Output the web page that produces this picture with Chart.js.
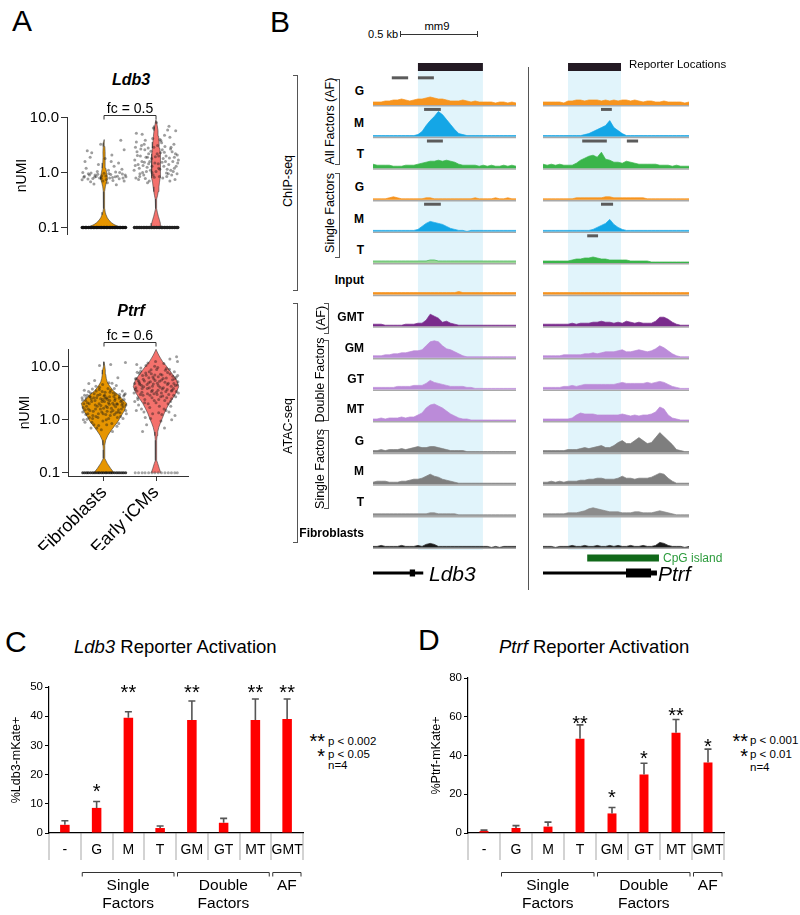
<!DOCTYPE html>
<html>
<head>
<meta charset="utf-8">
<title>Ldb3 / Ptrf reporter figure</title>
<script src="https://cdn.jsdelivr.net/npm/chart.js@4.4.1/dist/chart.umd.min.js"></script>
<style>
html,body{margin:0;padding:0;background:#fff;}
body{width:800px;height:915px;position:relative;overflow:hidden;font-family:'Liberation Sans',Arial,Helvetica,sans-serif;color:#000;}
.t{position:absolute;white-space:nowrap;line-height:1;}
.ln{position:absolute;box-sizing:border-box;}
canvas{position:absolute;}
</style>
</head>
<body>
<canvas id="vLdb3" width="200" height="155" style="left:0px;top:90px"></canvas>
<canvas id="vPtrf" width="200" height="232" style="left:0px;top:318px"></canvas>
<canvas id="trkL" width="143" height="530" style="left:373px;top:55px"></canvas>
<canvas id="trkR" width="146" height="530" style="left:543px;top:55px"></canvas>
<canvas id="barC" width="306" height="238" style="left:0px;top:677px"></canvas>
<canvas id="barD" width="327" height="247" style="left:400px;top:668px"></canvas>
<script>
// ======================= DATA =======================
// ---- Panel A: single-cell violins (nUMI, log scale) ----
const violinGroups = ['Fibroblasts', 'Early iCMs'];
const violinTicks = [0.1, 1, 10];
// violin outlines: nUMI level and half-width density
const ldb3FibLevels  = [0.1,0.106,0.113,0.122,0.135,0.15,0.17,0.19,0.22,0.27,0.35,0.45,0.55,0.65,0.75,0.85,1.0,1.2,1.5,1.9,2.4,3.0,3.5,4.0];
const ldb3FibDensity = [17.5,13.5,10,7.5,5,3.3,2,1.2,0.7,0.5,0.5,0.7,1.3,2.2,3.2,3.3,2.6,1.8,1.2,1.0,1.1,0.8,0.5,0];
const ldb3IcmLevels  = [0.1,0.11,0.12,0.14,0.16,0.19,0.22,0.28,0.33,0.38,0.45,0.55,0.65,0.8,1.0,1.3,1.7,2.2,2.8,3.6,4.6,5.8,7.2,8.4,9.2];
const ldb3IcmDensity = [5,4.8,4.3,3.3,2.3,1.3,0.6,0.4,0.8,1.5,2.2,2.9,3.4,4.1,4.6,4.6,4.4,4.1,3.7,3.1,2.6,2.0,1.2,0.5,0];
const ptrfFibLevels  = [0.1,0.12,0.15,0.186,0.22,0.27,0.33,0.41,0.51,0.62,0.74,0.9,1.14,1.52,2.04,2.5,3.0,3.4,4.0,4.5,5.2,6.0,7.2,8.7,10.5,12.4];
const ptrfFibDensity = [10,6.7,3.3,0.8,0.6,0.7,1.0,1.7,4,7,10,13.5,16.7,20.7,22.7,18,14,10,7,5,3.2,2.3,1.7,1.3,0.7,0];
const ptrfIcmLevels  = [0.1,0.12,0.15,0.17,0.22,0.3,0.41,0.5,0.59,0.72,0.86,1.05,1.33,1.65,2.04,2.5,3.16,4.2,5.6,7.0,8.7,10.5,12.4,14.5,16.6,19,21.3];
const ptrfIcmDensity = [4.7,3.3,1.7,0.7,0.6,0.6,0.7,1.1,1.7,2.8,4.3,6.2,8.3,10.7,13.3,16.5,20,22.7,20.7,17,13.3,10,6.7,4.5,2.7,1.2,0];
// cells: [jitter, nUMI]
const ldb3FibCells = [[-0.9,0.82],[-0.7,0.95],[-0.5,0.78],[-0.3,1.05],[-0.1,0.88],[0.1,0.75],[0.3,0.92],[0.5,0.84],[0.7,1.0],[0.9,0.7],
  [-0.8,1.2],[-0.6,0.68],[-0.4,0.9],[-0.2,0.8],[0,0.97],[0.2,1.1],[0.4,0.72],[0.6,0.86],[0.8,1.15],[0.95,0.9],
  [-0.85,1.6],[-0.55,2.3],[-0.25,1.4],[0.05,1.8],[0.35,2.1],[0.65,1.5],[0.9,2.6],[-0.75,2.5],[-0.45,0.62],[0.15,0.65],
  [0.55,0.6],[-0.15,3.3],[0.75,3.9],[0.45,1.3],[-0.95,1.0],[-0.35,0.85],[0.25,0.8],[-0.65,0.9],[0.85,0.8],[-0.05,0.7],
  [-0.88,0.86],[-0.72,0.76],[-0.58,0.98],[-0.42,0.83],[-0.28,0.93],[-0.12,0.79],[0.08,0.87],[0.22,0.96],[0.38,0.81],[0.52,1.02],
  [0.68,0.77],[0.82,0.94],[0.98,0.84],[-0.98,0.74],[0.32,1.6],[-0.62,1.9]];
const ldb3IcmCells = [[-0.95,1.7],[-0.85,2.4],[-0.75,1.2],[-0.65,3.1],[-0.55,0.9],[-0.45,1.9],[-0.35,2.8],[-0.25,1.1],[-0.15,4.2],[-0.05,1.5],
  [0.05,2.2],[0.15,0.85],[0.25,3.5],[0.35,1.3],[0.45,2.0],[0.55,0.95],[0.65,2.7],[0.75,1.6],[0.85,0.75],[0.95,2.1],
  [-0.9,0.8],[-0.8,1.4],[-0.7,2.0],[-0.6,1.0],[-0.5,2.6],[-0.4,1.25],[-0.3,0.7],[-0.2,1.8],[-0.1,2.9],[0,1.05],
  [0.1,1.45],[0.2,2.3],[0.3,0.8],[0.4,3.0],[0.5,1.15],[0.6,1.85],[0.7,0.9],[0.8,3.3],[0.9,1.3],[1.0,1.7],
  [-0.88,3.6],[-0.62,5.0],[-0.38,0.65],[-0.12,6.5],[0.12,1.2],[0.38,4.8],[0.62,0.7],[0.88,5.8],[-0.72,0.95],[0.72,2.4],
  [-0.28,1.6],[0.28,2.6],[-0.48,3.9],[0.48,0.85],[-0.18,1.0],[0.18,4.0],[-0.58,1.35],[0.58,7.0],[0.02,8.2],[-0.98,1.1],
  [-0.33,2.2],[0.42,1.6],[-0.78,0.75],[0.82,1.9],[-0.08,0.82],[0.66,1.1],[-0.52,1.55],[0.22,3.8],[-0.92,2.9],[0.94,0.95],
  [-0.93,1.35],[-0.83,2.05],[-0.73,0.85],[-0.63,1.6],[-0.53,3.3],[-0.43,1.05],[-0.33,1.45],[-0.23,2.45],[-0.13,0.9],[-0.03,1.95],
  [0.07,3.1],[0.17,1.15],[0.27,1.55],[0.37,2.35],[0.47,0.98],[0.57,1.4],[0.67,2.9],[0.77,1.05],[0.87,2.2],[0.97,1.5],
  [-0.68,2.7],[-0.18,1.3],[0.32,1.8],[0.82,1.2],[-0.48,0.78],[0.12,2.0],[0.62,4.4],[-0.88,5.2],[0.52,6.0],[-0.38,1.9]];
const ptrfFibCells = [[-0.9,2.0],[-0.8,2.6],[-0.7,1.6],[-0.6,3.2],[-0.5,1.2],[-0.4,2.3],[-0.3,1.8],[-0.2,4.1],[-0.1,1.4],[0,2.8],
  [0.1,1.0],[0.2,2.1],[0.3,3.6],[0.4,1.5],[0.5,2.5],[0.6,1.1],[0.7,3.0],[0.8,1.9],[0.9,2.4],[1.0,1.3],
  [-0.95,1.4],[-0.85,0.9],[-0.75,2.9],[-0.65,1.1],[-0.55,2.2],[-0.45,0.8],[-0.35,3.5],[-0.25,1.3],[-0.15,2.5],[-0.05,0.95],
  [0.05,3.3],[0.15,1.7],[0.25,2.7],[0.35,0.85],[0.45,1.9],[0.55,4.4],[0.65,1.55],[0.75,2.2],[0.85,1.05],[0.95,3.1],
  [-0.92,1.0],[-0.78,1.8],[-0.62,2.7],[-0.48,1.45],[-0.32,0.7],[-0.18,3.0],[-0.02,1.65],[0.12,2.6],[0.28,1.2],[0.42,3.2],
  [0.58,0.75],[0.72,1.35],[0.88,2.8],[-0.68,4.8],[-0.42,5.5],[0.22,5.0],[0.62,6.2],[-0.12,0.65],[0.38,0.6],[-0.88,3.6],
  [-0.58,0.7],[0.02,2.2],[0.32,1.4],[-0.22,2.0],[0.48,2.3],[-0.38,1.6],[0.78,1.6],[-0.82,2.3],[0.18,3.9],[-0.08,3.4],
  [0.52,1.75],[-0.52,3.8],[0.68,2.55],[-0.28,2.9],[0.08,1.25],[0.98,1.9],[-0.72,1.3],[0.82,3.5],[-0.98,2.6],[0.3,11.0],
  [-0.2,10.5],[0.96,12.0],[-0.46,2.6],[0.26,2.3],[-0.66,2.0],[0.14,1.45],[-0.36,1.15],[0.44,2.75],[-0.06,2.4],[0.6,1.95],
  [-0.93,1.7],[-0.87,2.9],[-0.81,1.25],[-0.74,2.1],[-0.69,3.4],[-0.63,1.5],[-0.57,2.45],[-0.51,1.05],[-0.44,3.1],[-0.39,1.9],
  [-0.33,2.6],[-0.27,1.1],[-0.21,3.7],[-0.16,1.6],[-0.09,2.2],[-0.04,1.3],[0.03,2.9],[0.09,1.8],[0.16,2.4],[0.21,1.05],
  [0.27,3.3],[0.33,1.65],[0.39,2.05],[0.46,1.25],[0.51,3.0],[0.57,2.0],[0.63,1.4],[0.69,2.7],[0.74,1.15],[0.79,2.3],
  [0.86,1.75],[0.91,2.95],[0.97,1.5],[-0.96,2.35],[-0.06,4.6],[0.36,4.9],[-0.54,0.9],[0.66,0.85],[0.12,0.8],[-0.24,0.78],
  [-0.76,1.02],[0.46,3.9],[-0.36,4.3],[0.84,2.05],[-0.14,1.85],[0.06,2.55],[-0.64,2.75],[0.54,1.35],[-0.84,1.55],[0.24,1.95]];
const ptrfIcmCells = [[-0.9,4.0],[-0.8,5.5],[-0.7,3.0],[-0.6,6.8],[-0.5,2.4],[-0.4,4.6],[-0.3,8.0],[-0.2,3.4],[-0.1,5.9],[0,2.1],
  [0.1,4.4],[0.2,7.2],[0.3,2.8],[0.4,5.1],[0.5,3.7],[0.6,9.0],[0.7,2.5],[0.8,4.8],[0.9,6.3],[1.0,3.2],
  [-0.95,2.2],[-0.85,3.5],[-0.75,7.5],[-0.65,1.6],[-0.55,4.2],[-0.45,10.5],[-0.35,2.0],[-0.25,5.2],[-0.15,1.3],[-0.05,7.0],
  [0.05,3.0],[0.15,1.8],[0.25,5.6],[0.35,11.5],[0.45,1.5],[0.55,4.9],[0.65,2.2],[0.75,6.6],[0.85,1.2],[0.95,4.5],
  [-0.92,5.9],[-0.78,1.9],[-0.62,3.9],[-0.48,1.1],[-0.32,6.2],[-0.18,2.6],[-0.02,12.5],[0.12,2.4],[0.28,3.8],[0.42,8.6],
  [0.58,1.4],[0.72,3.6],[0.88,2.7],[-0.68,9.5],[-0.42,0.8],[0.22,0.95],[0.62,14.0],[-0.12,4.7],[0.38,0.7],[-0.88,1.5],
  [-0.58,2.9],[0.02,3.3],[0.32,6.0],[-0.22,8.8],[0.48,2.6],[-0.38,3.1],[0.78,3.9],[-0.82,2.6],[0.18,4.1],[-0.08,2.3],
  [0.52,7.8],[-0.52,5.4],[0.68,4.3],[-0.28,1.7],[0.08,9.7],[0.98,5.2],[-0.72,4.6],[0.82,8.0],[-0.98,3.2],[0.92,15.5],
  [-0.6,0.6],[0.1,6.5],[-0.3,4.0],[0.44,3.4],[-0.16,3.6],[0.26,1.25],[-0.46,7.6],[0.7,1.0],[-0.86,11.0],[0.96,12.5],
  [-0.93,3.7],[-0.87,6.0],[-0.81,2.4],[-0.74,4.9],[-0.69,8.2],[-0.63,3.3],[-0.57,5.8],[-0.51,2.1],[-0.44,6.9],[-0.39,3.9],
  [-0.33,5.0],[-0.27,2.9],[-0.21,7.4],[-0.16,4.3],[-0.09,3.1],[-0.04,5.5],[0.03,8.9],[0.09,3.6],[0.16,5.3],[0.21,2.7],
  [0.27,7.0],[0.33,4.0],[0.39,2.3],[0.46,6.1],[0.51,4.6],[0.57,3.0],[0.63,7.3],[0.69,3.5],[0.74,5.7],[0.79,2.9],
  [0.86,4.4],[0.91,3.4],[0.97,6.8],[-0.96,4.8],[-0.06,10.2],[0.36,1.6],[-0.54,1.4],[0.66,1.8],[0.12,1.35],[-0.24,1.05],
  [-0.76,5.2],[0.46,9.3],[-0.36,11.8],[0.84,5.9],[-0.14,6.4],[0.06,4.9],[-0.64,4.4],[0.54,2.0],[-0.84,7.9],[0.24,3.2]];
// cells with zero counts (plotted at 0.1): jitter only
const ldb3FibZero = [-0.97,-0.91,-0.83,-0.78,-0.69,-0.62,-0.55,-0.47,-0.41,-0.33,-0.27,-0.18,-0.12,-0.04,0.03,0.11,0.17,0.26,0.31,0.39,0.46,0.53,0.61,0.68,0.74,0.82,0.89,0.96];
const ldb3IcmZero = [-0.96,-0.88,-0.81,-0.73,-0.66,-0.57,-0.5,-0.43,-0.36,-0.28,-0.21,-0.13,-0.06,0.02,0.09,0.16,0.24,0.3,0.38,0.45,0.52,0.6,0.67,0.75,0.83,0.9,0.97];
const ptrfFibZero = [-0.95,-0.86,-0.77,-0.7,-0.61,-0.52,-0.44,-0.36,-0.27,-0.2,-0.11,-0.03,0.06,0.13,0.22,0.3,0.37,0.46,0.55,0.63,0.71,0.8,0.88,0.97];
const ptrfIcmZero = [-0.93,-0.78,-0.62,-0.49,-0.33,-0.18,-0.05,0.1,0.24,0.4,0.55,0.69,0.84,0.95];

// ---- Panel B: genome browser tracks (signal per bin, 36 bins per locus) ----
const trackNames = ['G','M','T','G','M','T','Input','GMT','GM','GT','MT','G','M','T','Fibroblasts'];
const ldb3ChipAF_G = [3,3,3,4,4,5,5,6,5,4,5,6,6,7,8,7,6,6,5,4,4,4,5,4,3,4,3,3,3,3,2,3,3,2,3,2];
const ldb3ChipAF_M = [1,1,1,1,1,1,1,1,1,1,1,2,5,11,16,20,25,22,17,12,7,3,2,1,1,1,1,1,1,1,1,1,1,1,1,1];
const ldb3ChipAF_T = [4,3,3,3,3,2,2,2,3,3,3,4,5,6,7,7,8,7,8,7,6,4,3,3,3,3,2,3,2,3,2,2,3,2,3,2];
const ldb3ChipSF_G = [1,1,1,1,2,3,2,1,1,1,1,1,1,2,2,1,1,1,1,1,1,1,1,1,1,2,1,1,1,1,2,1,1,2,1,1];
const ldb3ChipSF_M = [1,1,1,1,1,1,1,1,1,1,1,2,5,8,10,9,8,7,5,3,2,1,1,0,1,1,1,1,1,1,1,1,1,1,1,1];
const ldb3ChipSF_T = [2,2,2,2,2,2,2,2,2,2,2,2,2,2,3,3,2,2,2,2,2,2,2,2,2,2,2,2,2,2,2,2,2,2,2,2];
const ldb3Input    = [2,2,2,2,2,2,2,2,2,2,2,2,2,2,2,2,2,2,2,2,2,3,2,2,2,2,2,2,2,2,2,2,2,2,2,2];
const ldb3AtacGMT  = [2,2,2,1,1,1,1,1,2,2,2,3,3,6,12,10,8,4,5,3,2,1,1,1,1,1,1,1,1,1,1,1,1,1,1,1];
const ldb3AtacGM   = [2,2,2,3,3,4,4,5,5,6,7,7,8,12,16,17,16,12,9,8,6,4,2,1,1,1,1,1,1,1,1,1,1,1,1,1];
const ldb3AtacGT   = [2,2,2,2,2,2,3,3,3,3,4,4,4,6,9,7,6,5,4,3,3,3,3,2,2,1,1,1,1,1,1,1,1,1,1,1];
const ldb3AtacMT   = [2,2,3,2,3,3,3,4,3,4,4,6,8,13,16,17,15,13,10,7,5,3,2,2,1,1,1,1,1,1,1,1,1,1,1,1];
const ldb3AtacG    = [2,2,3,2,3,3,3,4,3,4,5,6,5,5,6,6,5,4,3,2,2,2,2,1,1,1,1,1,1,1,1,1,1,1,1,1];
const ldb3AtacM    = [2,3,3,3,2,2,2,3,3,4,5,5,6,8,10,8,7,5,4,3,2,1,1,1,1,1,1,1,1,1,1,1,1,1,1,1];
const ldb3AtacT    = [2,2,2,2,2,2,2,2,2,2,2,2,2,2,3,3,2,2,2,2,2,1,1,1,1,1,1,1,1,1,1,1,1,1,1,1];
const ldb3AtacFib  = [1,1,2,1,1,1,1,2,1,1,1,2,1,3,4,3,1,1,1,1,1,1,1,1,1,1,1,1,1,0,1,0,1,1,1,1];
const ptrfChipAF_G = [3,3,3,3,3,2,4,4,5,5,4,5,5,5,4,5,4,5,4,5,5,4,5,4,3,4,4,3,3,4,3,3,3,3,2,3];
const ptrfChipAF_M = [1,1,1,1,1,1,1,1,1,1,2,3,5,7,9,11,16,9,6,3,1,1,1,1,1,1,1,1,1,1,1,1,1,1,1,1];
const ptrfChipAF_T = [4,3,4,3,4,3,3,3,5,8,10,12,13,11,16,9,8,6,6,5,7,6,5,4,4,4,4,4,3,3,3,2,3,2,2,2];
const ptrfChipSF_G = [1,1,1,1,1,1,1,1,2,2,2,2,2,2,2,3,3,2,2,2,2,2,2,2,2,1,1,1,1,1,1,1,1,1,1,1];
const ptrfChipSF_M = [1,1,1,1,1,1,1,1,1,1,1,1,2,4,6,8,12,7,4,2,1,1,1,1,1,1,1,1,1,1,1,1,1,1,1,1];
const ptrfChipSF_T = [2,2,2,2,2,2,2,3,4,4,5,5,6,5,4,4,3,3,3,3,3,2,2,2,2,2,1,1,1,1,1,1,1,1,1,1];
const ptrfInput    = [2,2,2,2,2,2,2,2,2,2,2,2,2,2,2,2,2,2,2,2,2,2,2,2,2,2,2,2,2,2,2,2,2,2,2,2];
const ptrfAtacGMT  = [2,2,2,2,2,2,2,3,2,3,3,3,4,4,5,4,4,3,4,3,5,4,3,4,3,3,3,5,9,9,7,4,2,1,1,1];
const ptrfAtacGM   = [2,2,2,2,2,3,3,3,3,3,4,4,5,4,5,6,6,6,7,8,6,6,7,8,7,6,7,9,12,10,7,4,2,1,1,1];
const ptrfAtacGT   = [2,2,2,2,2,3,3,4,3,4,5,5,5,5,5,5,5,5,6,7,6,6,6,6,6,7,6,7,8,7,5,3,2,1,1,1];
const ptrfAtacMT   = [2,2,2,2,2,2,2,3,6,8,7,7,7,6,6,6,6,6,6,7,6,5,6,5,6,6,7,9,14,12,6,3,2,1,1,1];
const ptrfAtacG    = [2,2,2,2,2,2,3,3,3,4,5,4,5,6,7,5,5,7,10,12,9,9,12,15,12,9,10,15,20,16,12,8,3,2,1,1];
const ptrfAtacM    = [2,2,3,2,3,2,3,3,3,4,4,5,5,6,6,5,5,5,6,8,6,6,5,6,6,6,7,9,11,10,6,3,1,1,1,1];
const ptrfAtacT    = [2,2,2,2,2,2,3,3,3,4,5,7,8,7,6,5,4,4,4,3,3,3,4,4,3,3,3,4,5,4,3,2,1,1,1,1];
const ptrfAtacFib  = [1,1,1,0,1,1,1,2,1,1,2,1,1,2,1,1,2,1,2,1,1,2,1,1,2,1,1,2,5,4,2,1,1,1,0,1];
// peak calls: [track index, start bin, end bin]
const ldb3Peaks = [[0,4.6,8.6],[0,11,14.9],[1,12.5,16.6],[2,13.2,17.1],[4,12.5,16.6]];
const ptrfPeaks = [[1,13.9,16.5],[2,9.4,15.3],[2,20.1,22.8],[4,13.9,16.8],[5,10.6,13.2]];
const ldb3Reporter = [11.0, 26.9];
const ptrfReporter = [6.0, 18.7];
const ptrfCpG = [10.6, 27.8];
const ldb3GeneSpan = [0, 12.3], ldb3Exons = [[9.0, 10.3]];
const ptrfGeneSpan = [0, 27.3], ptrfExons = [[19.9, 25.9]], ptrfUtr = [[25.9, 27.3]];

// ---- Panels C / D: reporter activation ----
const conditions = ['-','G','M','T','GM','GT','MT','GMT'];
const ldb3Mean = [2.8, 8.6, 39.5, 1.7, 38.7, 3.5, 38.7, 39.0];
const ldb3Err  = [1.4, 2.2, 2.0, 0.7, 6.5, 1.5, 7.2, 6.9];
const ldb3Stars = ['', '*', '**', '', '**', '', '**', '**'];
const ldb3StarLevel = [null, 15.9, 50, null, 50, null, 50, 50];
const ptrfMean = [1.0, 2.6, 3.3, 48.6, 10.1, 30.2, 51.7, 36.4];
const ptrfErr  = [0.5, 1.2, 2.3, 7.2, 3.1, 5.8, 6.9, 6.9];
const ptrfStars = ['', '', '', '**', '*', '*', '**', '*'];
const ptrfStarLevel = [null, null, null, 59.2, 20.8, 40.8, 63.0, 47.1];
const groupLabels = [['Single','Factors'], ['Double','Factors'], ['AF']];
const groupFrom = [1, 4, 7];
const groupTo = [3, 6, 7];

// ======================= SETUP =======================
const FONT = "'Liberation Sans', Arial, Helvetica, sans-serif";
Chart.defaults.font.family = FONT;
Chart.defaults.color = '#000';
Chart.defaults.animation = false;
Chart.defaults.responsive = false;
Chart.defaults.devicePixelRatio = 1;
Chart.defaults.plugins.legend.display = false;
Chart.defaults.plugins.tooltip.enabled = false;

// ---------- Panel A ----------
const VIOLIN_PX = 52;   // density units per category unit
const JITTER = 0.43;
const ORANGE = '#E69500', SALMON = '#F4716C';

function violinShape(levels, dens, c) {
  const right = levels.map((v, i) => ({x: c + dens[i] / VIOLIN_PX, y: v}));
  const left = levels.map((v, i) => ({x: c - dens[i] / VIOLIN_PX, y: v})).reverse();
  return right.concat(left);
}
const cellsXY = (cells, c) => cells.map(([j, v]) => ({x: c + j * JITTER, y: v}));
const zeroXY = (jit, c) => jit.map(j => ({x: c + j * JITTER, y: 0.1}));

const fcBracket = {
  id: 'fcBracket',
  afterDraw(chart, args, o) {
    const {ctx, scales: {x}, chartArea} = chart;
    const x1 = x.getPixelForValue(1), x2 = x.getPixelForValue(2);
    const y = chartArea.top + o.dy + 0.5;
    ctx.save();
    ctx.strokeStyle = '#333'; ctx.lineWidth = 1;
    ctx.beginPath(); ctx.moveTo(x1, y + 4); ctx.lineTo(x1, y); ctx.lineTo(x2, y); ctx.lineTo(x2, y + 4); ctx.stroke();
    ctx.fillStyle = '#000'; ctx.font = '14px ' + FONT; ctx.textAlign = 'center'; ctx.textBaseline = 'alphabetic';
    ctx.fillText(o.text, (x1 + x2) / 2, y - 3);
    ctx.restore();
  }
};

function violinChart(id, v) {
  const datasets = [
    {data: zeroXY(v.zero[0], 1), pointRadius: v.zeroR, backgroundColor: v.zeroCol[0], borderWidth: 0},
    {data: zeroXY(v.zero[1], 2), pointRadius: v.zeroR, backgroundColor: v.zeroCol[1], borderWidth: 0},
    {data: cellsXY(v.cells[0], 1), pointRadius: 1.5, backgroundColor: 'rgba(25,25,25,0.42)', borderWidth: 0},
    {data: cellsXY(v.cells[1], 2), pointRadius: 1.5, backgroundColor: 'rgba(25,25,25,0.42)', borderWidth: 0},
    {data: violinShape(v.levels[0], v.dens[0], 1), showLine: true, fill: 'shape', backgroundColor: ORANGE, borderColor: '#3a3a3a', borderWidth: 0.6, pointRadius: 0},
    {data: violinShape(v.levels[1], v.dens[1], 2), showLine: true, fill: 'shape', backgroundColor: SALMON, borderColor: '#3a3a3a', borderWidth: 0.6, pointRadius: 0}
  ];
  return new Chart(document.getElementById(id), {
    type: 'scatter',
    data: {datasets},
    options: {
      layout: {padding: v.padding},
      scales: {
        x: {
          type: 'linear', min: v.xmin, max: 2.615, display: v.showX,
          afterBuildTicks: ax => { ax.ticks = [{value: 1}, {value: 2}]; },
          afterFit: ax => { ax.height = v.xh; },
          ticks: {autoSkip: false, minRotation: 45, maxRotation: 45, padding: 1, font: {size: 18}, callback: val => violinGroups[val - 1]},
          grid: {drawOnChartArea: false, drawTicks: true, tickLength: 5, color: '#333'},
          border: {color: '#333', width: 1}
        },
        y: {
          type: 'logarithmic', min: v.ymin, max: v.ymax,
          afterBuildTicks: ax => { ax.ticks = violinTicks.map(t => ({value: t})); },
          afterFit: ax => { ax.width = v.yw; },
          ticks: {font: {size: 15}, padding: 2, callback: val => Number(val).toFixed(1)},
          grid: {drawOnChartArea: false, tickLength: 6, color: '#333'},
          border: {color: '#333', width: 1},
          title: {display: true, text: 'nUMI', font: {size: 14}, padding: {top: v.titlePad, bottom: 0}}
        }
      },
      plugins: {fcBracket: {text: v.fc, dy: v.fcDy}}
    },
    plugins: [fcBracket]
  });
}

violinChart('vLdb3', {
  levels: [ldb3FibLevels, ldb3IcmLevels], dens: [ldb3FibDensity, ldb3IcmDensity],
  cells: [ldb3FibCells, ldb3IcmCells], zero: [ldb3FibZero, ldb3IcmZero],
  zeroR: 1.8, zeroCol: ['#111', '#222'],
  padding: {top: 27, bottom: 6, right: 12, left: 0},
  xmin: 0.288, showX: false, xh: 0, ymin: 0.076, ymax: 10.3, yw: 67, titlePad: 14,
  fc: 'fc = 0.5', fcDy: -2
});
violinChart('vPtrf', {
  levels: [ptrfFibLevels, ptrfIcmLevels], dens: [ptrfFibDensity, ptrfIcmDensity],
  cells: [ptrfFibCells, ptrfIcmCells], zero: [ptrfFibZero, ptrfIcmZero],
  zeroR: 1.5, zeroCol: ['rgba(20,20,20,0.8)', 'rgba(60,60,60,0.45)'],
  padding: {top: 31, right: 12, left: 0, bottom: 0},
  xmin: 0.308, showX: true, xh: 74, ymin: 0.0867, ymax: 21.6, yw: 68, titlePad: 17,
  fc: 'fc = 0.6', fcDy: -7
});

// ---------- Panel B ----------
const ROW = 31.6;              // signal units per track row
const Y_MIN = -1.582, Y_MAX = 15.19;
const REPORTER_ROW = -1.2, SHADE_TOP = -1.33, SHADE_BOTTOM = 14.08;
const CPG_ROW = 14.335, GENE_ROW = 14.81, PEAK_OFFSET = 0.86;
const trackColors = ['#F7941E','#14A6E6','#3AB54A','#F7941E','#14A6E6','#3AB54A','#F7941E',
                     '#7A2B8C','#BB8BD9','#BB8BD9','#BB8BD9','#7E7E7E','#7E7E7E','#8C8C8C','#1C1C1C'];

const trackDecor = {
  id: 'trackDecor',
  beforeDatasetsDraw(chart, args, o) {
    const {ctx, scales: {x, y}, chartArea} = chart;
    ctx.save();
    ctx.fillStyle = '#E1F4FB';
    const x1 = x.getPixelForValue(o.shade[0]), x2 = x.getPixelForValue(o.shade[1]);
    const y1 = y.getPixelForValue(SHADE_TOP), y2 = y.getPixelForValue(SHADE_BOTTOM);
    ctx.fillRect(x1, y1, x2 - x1, y2 - y1);
    ctx.strokeStyle = '#a9a9a9'; ctx.lineWidth = 1.6;
    for (let i = 0; i < o.n; i++) {
      const py = y.getPixelForValue(i) + 0.8;
      ctx.beginPath(); ctx.moveTo(chartArea.left, py); ctx.lineTo(chartArea.right, py); ctx.stroke();
    }
    ctx.restore();
  }
};

function segment(range, row, color, width) {
  return {data: [{x: range[0], y: row}, {x: range[1], y: row}], borderColor: color, borderWidth: width,
          borderCapStyle: 'butt', pointRadius: 0, fill: false, tension: 0};
}

function trackChart(id, tracks, peaks, reporter, extra) {
  const datasets = [];
  tracks.forEach((arr, i) => {
    const faint = extra.faint && extra.faint.includes(i);
    datasets.push({
      data: arr.map((v, k) => ({x: k, y: i - v / ROW})),
      fill: {value: i}, backgroundColor: faint ? '#9BD597' : trackColors[i],
      borderColor: trackColors[i], borderWidth: 0.7, pointRadius: 0, tension: 0
    });
  });
  peaks.forEach(([i, s, e]) => datasets.push(segment([s, e], i - PEAK_OFFSET, '#5b5b5b', 3)));
  datasets.push(segment(reporter, REPORTER_ROW, '#231A23', 8));
  (extra.segments || []).forEach(sg => datasets.push(sg));
  return new Chart(document.getElementById(id), {
    type: 'line',
    data: {datasets},
    options: {
      layout: {padding: 0},
      scales: {
        x: {type: 'linear', min: 0, max: tracks[0].length - 1, display: false},
        y: {type: 'linear', min: Y_MIN, max: Y_MAX, reverse: true, display: false}
      },
      plugins: {trackDecor: {shade: reporter, n: tracks.length}}
    },
    plugins: [trackDecor]
  });
}

trackChart('trkL',
  [ldb3ChipAF_G, ldb3ChipAF_M, ldb3ChipAF_T, ldb3ChipSF_G, ldb3ChipSF_M, ldb3ChipSF_T, ldb3Input,
   ldb3AtacGMT, ldb3AtacGM, ldb3AtacGT, ldb3AtacMT, ldb3AtacG, ldb3AtacM, ldb3AtacT, ldb3AtacFib],
  ldb3Peaks, ldb3Reporter,
  {faint: [5], segments: [
    segment(ldb3GeneSpan, GENE_ROW, '#000', 3),
    ...ldb3Exons.map(e => segment(e, GENE_ROW, '#000', 7))
  ]});
trackChart('trkR',
  [ptrfChipAF_G, ptrfChipAF_M, ptrfChipAF_T, ptrfChipSF_G, ptrfChipSF_M, ptrfChipSF_T, ptrfInput,
   ptrfAtacGMT, ptrfAtacGM, ptrfAtacGT, ptrfAtacMT, ptrfAtacG, ptrfAtacM, ptrfAtacT, ptrfAtacFib],
  ptrfPeaks, ptrfReporter,
  {segments: [
    segment(ptrfCpG, CPG_ROW, '#11691A', 7),
    segment(ptrfGeneSpan, GENE_ROW, '#000', 3),
    ...ptrfExons.map(e => segment(e, GENE_ROW, '#000', 9)),
    ...ptrfUtr.map(e => segment(e, GENE_ROW, '#000', 5))
  ]});

// ---------- Panels C / D ----------
const barExtras = {
  id: 'barExtras',
  afterDatasetsDraw(chart, args, o) {
    const {ctx, scales: {y}} = chart;
    const meta = chart.getDatasetMeta(0);
    const mean = chart.data.datasets[0].data;
    ctx.save();
    ctx.strokeStyle = '#555'; ctx.lineWidth = 1.6;
    o.err.forEach((e, i) => {
      const bx = meta.data[i].x, y0 = y.getPixelForValue(mean[i]), y1 = y.getPixelForValue(mean[i] + e);
      ctx.beginPath(); ctx.moveTo(bx, y0); ctx.lineTo(bx, y1); ctx.moveTo(bx - 3.5, y1); ctx.lineTo(bx + 3.5, y1); ctx.stroke();
    });
    ctx.fillStyle = '#000'; ctx.font = '20px ' + FONT; ctx.textAlign = 'center'; ctx.textBaseline = 'alphabetic';
    o.stars.forEach((s, i) => { if (s) ctx.fillText(s, meta.data[i].x, y.getPixelForValue(o.level[i]) + 11.5); });
    ctx.restore();
  },
  afterDraw(chart, args, o) {
    const {ctx, scales: {x}, chartArea} = chart;
    const half = (x.getPixelForValue(1) - x.getPixelForValue(0)) / 2;
    const by = Math.round(chartArea.bottom + 39) + 0.5;
    ctx.save();
    ctx.strokeStyle = '#333'; ctx.lineWidth = 1;
    ctx.fillStyle = '#000'; ctx.font = '15.5px ' + FONT; ctx.textAlign = 'center'; ctx.textBaseline = 'alphabetic';
    groupLabels.forEach((lab, g) => {
      const x1 = x.getPixelForValue(groupFrom[g]) - half + 1.5, x2 = x.getPixelForValue(groupTo[g]) + half - 2;
      ctx.beginPath(); ctx.moveTo(x1, by + 4); ctx.lineTo(x1, by); ctx.lineTo(x2, by); ctx.lineTo(x2, by + 4); ctx.stroke();
      lab.forEach((t, k) => ctx.fillText(t, (x1 + x2) / 2, by + 17 + k * 18));
    });
    ctx.restore();
  }
};

function barChart(id, b) {
  return new Chart(document.getElementById(id), {
    type: 'bar',
    data: {labels: conditions, datasets: [{data: b.mean, backgroundColor: '#FF0000', barPercentage: b.barPct, categoryPercentage: 1}]},
    options: {
      layout: {padding: {top: 10, right: 3, left: 0, bottom: 0}},
      scales: {
        x: {
          afterFit: ax => { ax.height = 82; },
          grid: {offset: true, drawOnChartArea: false, drawTicks: true, tickLength: 27, color: '#d3d3d3', lineWidth: 2},
          border: {color: '#000', width: 1.2},
          ticks: {font: {size: 14}, padding: -18, autoSkip: false, maxRotation: 0, minRotation: 0}
        },
        y: {
          min: 0, max: b.max,
          afterFit: ax => { ax.width = b.yw; },
          ticks: {stepSize: b.step, font: {size: 11.5}, padding: 2},
          grid: {drawOnChartArea: false, tickLength: 4, color: '#000'},
          border: {color: '#000', width: 1.2},
          title: {display: true, text: b.title, font: {size: 12.5}, padding: {top: b.titlePad, bottom: 0}}
        }
      },
      plugins: {barExtras: {err: b.err, stars: b.stars, level: b.level}}
    },
    plugins: [barExtras]
  });
}
barChart('barC', {mean: ldb3Mean, err: ldb3Err, stars: ldb3Stars, level: ldb3StarLevel, max: 50, step: 10, yw: 49, barPct: 0.3, title: '%Ldb3-mKate+', titlePad: 9});
barChart('barD', {mean: ptrfMean, err: ptrfErr, stars: ptrfStars, level: ptrfStarLevel, max: 80, step: 20, yw: 68, barPct: 0.28, title: '%Ptrf-mKate+', titlePad: 29});

// ======================= HTML ANNOTATIONS =======================
function T(x, y, html, size, o = {}) {
  const d = document.createElement('div');
  d.className = 't';
  d.innerHTML = html;
  d.style.left = x + 'px'; d.style.top = y + 'px';
  d.style.fontSize = size + 'px';
  if (o.bold) d.style.fontWeight = 'bold';
  if (o.italic) d.style.fontStyle = 'italic';
  if (o.color) d.style.color = o.color;
  const tx = o.rot ? '-50%' : (o.align === 'center' ? '-50%' : o.align === 'right' ? '-100%' : '0');
  d.style.transform = `translate(${tx},-50%)` + (o.rot ? ` rotate(${o.rot}deg)` : '');
  document.body.appendChild(d);
}
function L(x, y, w, h, css) {
  const d = document.createElement('div');
  d.className = 'ln';
  d.style.left = x + 'px'; d.style.top = y + 'px'; d.style.width = w + 'px'; d.style.height = h + 'px';
  Object.assign(d.style, css);
  document.body.appendChild(d);
}
// bracket "]" shape
function bracket(x, y1, y2) {
  L(x - 4, y1, 5, y2 - y1, {borderTop: '1.2px solid #555', borderRight: '1.2px solid #555', borderBottom: '1.2px solid #555'});
}

// Panel A
T(12, 21, 'A', 30);
T(131, 80, 'Ldb3', 16, {bold: true, italic: true, align: 'center'});
T(131, 311, 'Ptrf', 16, {bold: true, italic: true, align: 'center'});

// Panel B
T(270, 22, 'B', 30);
T(398, 34, '0.5 kb', 11, {align: 'right'});
T(437, 27, 'mm9', 11.3, {align: 'center'});
L(400, 33.5, 77, 1, {background: '#333'});
L(400, 31, 1, 6, {background: '#333'});
L(476.5, 31, 1, 6, {background: '#333'});
T(629, 65, 'Reporter Locations', 11.5);
L(527.5, 67, 1.4, 523, {background: '#555'});
const labelCenters = [90.7, 122.7, 154, 187, 218.7, 250, 280, 316.7, 347.7, 378.7, 409.3, 440.7, 471, 502, 532.7];
trackNames.forEach((n, i) => T(364, labelCenters[i], n, 12, {bold: true, align: 'right'}));
bracket(297, 75, 291);  T(288, 181, 'ChIP-seq', 12.5, {rot: -90});
bracket(339, 79, 165);  T(330, 121, 'All Factors (AF)', 12.5, {rot: -90});
bracket(339, 173, 258); T(330, 213, 'Single Factors', 12.5, {rot: -90});
bracket(297, 303, 543); T(288, 426, 'ATAC-seq', 12.5, {rot: -90});
bracket(328, 303, 334); T(321, 318, '(AF)', 12.5, {rot: -90});
bracket(328, 340, 421); T(320, 380, 'Double Factors', 12.5, {rot: -90});
bracket(328, 430, 509); T(320, 469, 'Single Factors', 12.5, {rot: -90});
T(663, 558, 'CpG island', 12, {color: '#2C9B3C'});
T(429, 573, 'Ldb3', 21, {italic: true});
T(658, 573, 'Ptrf', 21, {italic: true});

// Panel C
T(5, 642, 'C', 30);
T(74, 647, '<i>Ldb3</i> Reporter Activation', 18.5);
T(325, 741, '**', 20, {align: 'right'}); T(328, 742, 'p &lt; 0.002', 11.5);
T(325, 756, '*', 20, {align: 'right'});  T(328, 755, 'p &lt; 0.05', 11.5);
T(328, 766, 'n=4', 11.5);

// Panel D
T(418, 640, 'D', 30);
T(499, 647, '<i>Ptrf</i> Reporter Activation', 18.5);
T(748, 741, '**', 20, {align: 'right'}); T(750, 741, 'p &lt; 0.001', 11.5);
T(748, 756, '*', 20, {align: 'right'});  T(750, 755, 'p &lt; 0.01', 11.5);
T(750, 768, 'n=4', 11.5);
</script>
</body>
</html>
